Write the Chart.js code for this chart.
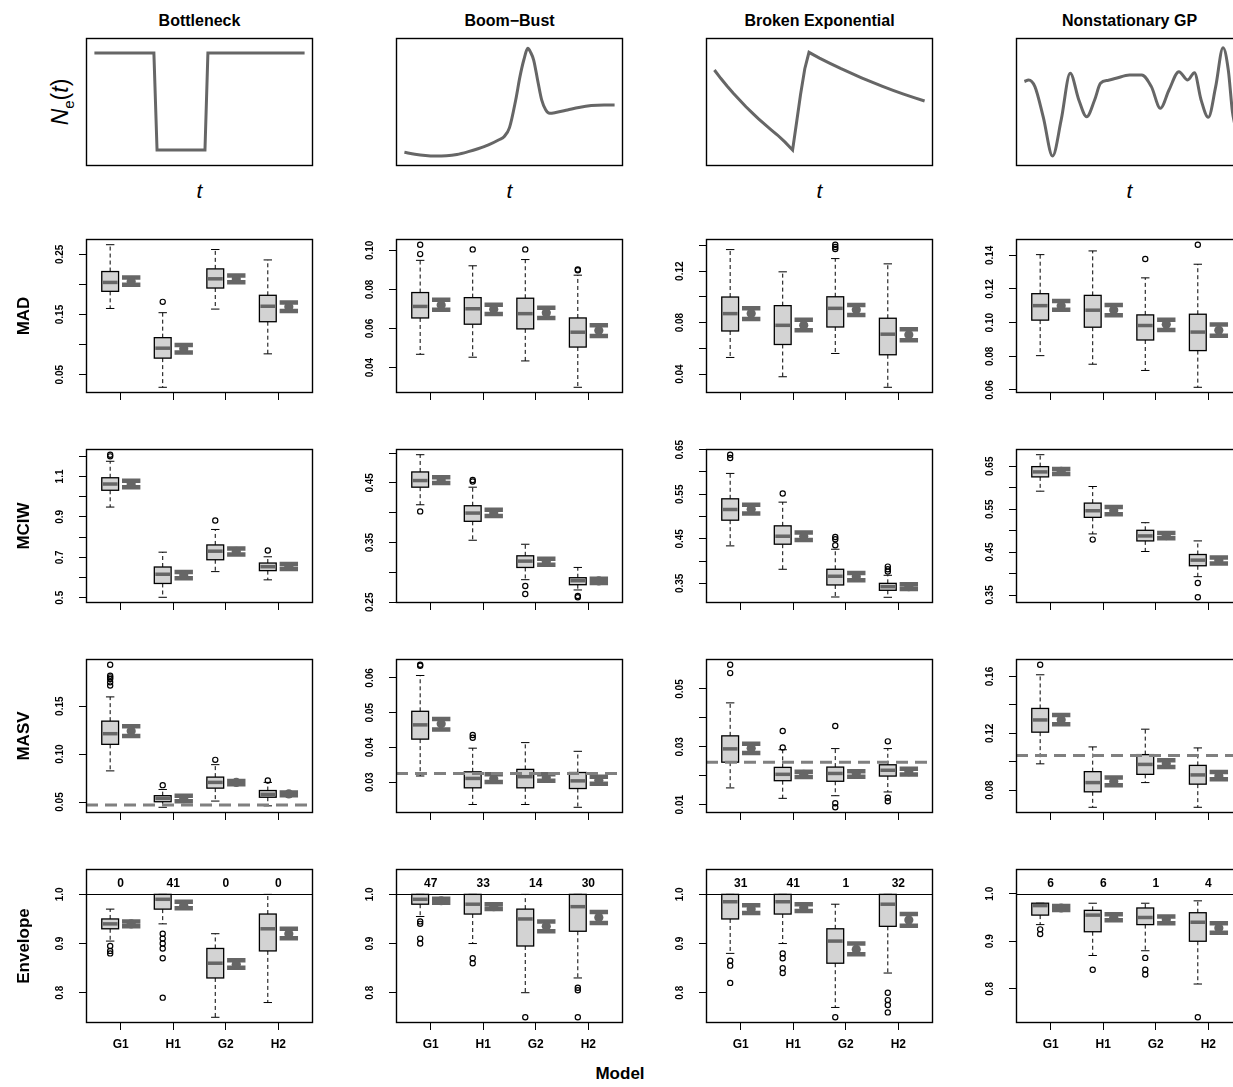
<!DOCTYPE html>
<html>
<head>
<meta charset="utf-8">
<script src="https://cdn.jsdelivr.net/npm/chart.js@4.4.1/dist/chart.umd.min.js"></script>
<style>
  body { margin: 0; background: #fff; }
  #fig { position: relative; width: 1233px; height: 1087px; overflow: hidden; font-family: "Liberation Sans", Arial, sans-serif; }
  #fig canvas { position: absolute; }
  .lbl { position: absolute; white-space: nowrap; color: #000; transform: translate(-50%, -50%); z-index: 2; }
  .rot { transform: translate(-50%, -50%) rotate(-90deg); }
</style>
</head>
<body>
<div id="fig"></div>
<script>
const models = ['G1', 'H1', 'G2', 'H2'];
const scenarios = ['Bottleneck', 'Boom\u2212Bust', 'Broken Exponential', 'Nonstationary GP'];
const metrics = ['MAD', 'MCIW', 'MASV', 'Envelope'];

// N_e(t) curves, t rescaled to 0..1, size in arbitrary units
const bottleneckT = [0, 0.283, 0.298, 0.526, 0.54, 1];
const bottleneckN = [0.883, 0.883, 0.125, 0.125, 0.883, 0.883];
const boomBustT = [0, 0.05, 0.1, 0.143, 0.2, 0.25, 0.304, 0.35, 0.4, 0.45, 0.474, 0.5, 0.53, 0.55, 0.568, 0.587, 0.6, 0.615, 0.635, 0.653, 0.672, 0.691, 0.72, 0.776, 0.83, 0.889, 0.95, 1];
const boomBustN = [0.107, 0.092, 0.082, 0.078, 0.080, 0.090, 0.112, 0.135, 0.165, 0.205, 0.229, 0.30, 0.52, 0.70, 0.828, 0.919, 0.89, 0.828, 0.66, 0.516, 0.44, 0.412, 0.418, 0.4375, 0.457, 0.472, 0.477, 0.477];
const brokenT = [0, 0.03, 0.06, 0.09, 0.12, 0.15, 0.18, 0.21, 0.24, 0.27, 0.30, 0.335, 0.372, 0.39, 0.41, 0.43, 0.45, 0.5, 0.55, 0.6, 0.65, 0.7, 0.75, 0.8, 0.85, 0.9, 0.95, 1];
const brokenN = [0.75, 0.685, 0.625, 0.568, 0.515, 0.463, 0.415, 0.368, 0.325, 0.283, 0.242, 0.188, 0.125, 0.33, 0.56, 0.76, 0.888, 0.843, 0.802, 0.762, 0.725, 0.689, 0.655, 0.622, 0.591, 0.562, 0.534, 0.508];
const gpT = [0, 0.02, 0.05, 0.09, 0.134, 0.175, 0.218, 0.259, 0.296, 0.334, 0.362, 0.40, 0.436, 0.50, 0.558, 0.604, 0.647, 0.688, 0.735, 0.777, 0.809, 0.84, 0.875, 0.91, 0.945, 0.97, 0.99, 1];
const gpN = [0.66, 0.672, 0.62, 0.38, 0.078, 0.36, 0.724, 0.516, 0.385, 0.516, 0.646, 0.67, 0.685, 0.711, 0.711, 0.62, 0.451, 0.594, 0.737, 0.672, 0.729, 0.52, 0.38, 0.62, 0.924, 0.75, 0.42, 0.33];
const curveT = [bottleneckT, boomBustT, brokenT, gpT];
const curveN = [bottleneckN, boomBustN, brokenN, gpN];
const curveSmooth = [false, true, false, true];

// boxplot stats per model: [lower whisker, Q1, median, Q3, upper whisker]
const madBox = [
  [[0.160, 0.1885, 0.2033, 0.2214, 0.266], [0.029, 0.0775, 0.094, 0.1115, 0.153], [0.159, 0.194, 0.2093, 0.2258, 0.258], [0.0846, 0.138, 0.1637, 0.1819, 0.2407]],
  [[0.0468, 0.0654, 0.0713, 0.0784, 0.0949], [0.0453, 0.0622, 0.0701, 0.0758, 0.0921], [0.0434, 0.0598, 0.0676, 0.0755, 0.0953], [0.0299, 0.0505, 0.0581, 0.0654, 0.0873]],
  [[0.0529, 0.0735, 0.087, 0.0999, 0.1368], [0.0379, 0.063, 0.0779, 0.0932, 0.1195], [0.056, 0.0766, 0.0911, 0.1001, 0.1298], [0.0297, 0.055, 0.071, 0.0834, 0.1257]],
  [[0.0804, 0.1015, 0.1101, 0.1172, 0.1404], [0.0753, 0.0973, 0.1074, 0.1162, 0.1426], [0.0716, 0.0897, 0.0983, 0.1046, 0.1266], [0.0616, 0.0834, 0.0944, 0.105, 0.1347]]
];
const madOut = [
  [[], [0.171], [], []],
  [[0.0981, 0.1029], [0.1005], [0.1005], [0.0898, 0.0902]],
  [[], [], [0.1373, 0.1388, 0.1406], []],
  [[], [], [0.1378], [0.1463]]
];
const madMean = [[0.205, 0.093, 0.209, 0.163], [0.072, 0.0698, 0.068, 0.059], [0.087, 0.078, 0.09, 0.0705], [0.110, 0.1075, 0.099, 0.0955]];
const madCI = [
  [[0.1995, 0.2115], [0.087, 0.0995], [0.2038, 0.2148], [0.156, 0.1698]],
  [[0.0696, 0.0747], [0.0674, 0.0721], [0.0654, 0.0706], [0.0561, 0.0617]],
  [[0.0828, 0.0911], [0.0741, 0.0823], [0.0859, 0.0937], [0.0663, 0.0748]],
  [[0.1076, 0.1129], [0.1044, 0.1105], [0.0956, 0.1017], [0.0922, 0.0989]]
];

const mciwBox = [
  [[0.9485, 1.0316, 1.0625, 1.0935, 1.175], [0.5023, 0.5707, 0.6163, 0.6521, 0.7254], [0.6293, 0.688, 0.7303, 0.7612, 0.8378], [0.5886, 0.6342, 0.6537, 0.6717, 0.7026]],
  [[0.4133, 0.4428, 0.4539, 0.4683, 0.4972], [0.3539, 0.3856, 0.3994, 0.4117, 0.4428], [0.2878, 0.3083, 0.3189, 0.3278, 0.3472], [0.2706, 0.2794, 0.2861, 0.2911, 0.3083]],
  [[0.4341, 0.4918, 0.5158, 0.5398, 0.5968], [0.3816, 0.4379, 0.4558, 0.4791, 0.5323], [0.3194, 0.3464, 0.3659, 0.3816, 0.4266], [0.3187, 0.3344, 0.3426, 0.35, 0.3681]],
  [[0.592, 0.6253, 0.6369, 0.6492, 0.677], [0.4924, 0.531, 0.5464, 0.5642, 0.6029], [0.4514, 0.4761, 0.4877, 0.5008, 0.5186], [0.3927, 0.4182, 0.4313, 0.4444, 0.4761]]
];
const mciwOut = [
  [[1.1993, 1.2075], [], [0.8818], [0.7336]],
  [[0.4022], [0.4522, 0.455], [0.2772, 0.2639], [0.2606, 0.2583]],
  [[0.6313, 0.6388], [0.5518], [0.4356, 0.449, 0.454], [0.3764, 0.3816, 0.3876]],
  [[], [0.4792], [], [0.378, 0.3447]]
];
const mciwMean = [[1.063, 0.612, 0.729, 0.6545], [0.455, 0.3997, 0.318, 0.2858], [0.5165, 0.456, 0.365, 0.3425], [0.638, 0.5465, 0.4885, 0.4305]];
const mciwCI = [
  [[1.0463, 1.0788], [0.5967, 0.6277], [0.714, 0.7433], [0.6423, 0.6668]],
  [[0.45, 0.4594], [0.3944, 0.405], [0.3128, 0.3228], [0.2822, 0.2894]],
  [[0.5068, 0.5263], [0.4476, 0.4641], [0.3569, 0.3734], [0.3374, 0.3479]],
  [[0.6322, 0.6438], [0.538, 0.555], [0.4823, 0.4947], [0.4236, 0.4375]]
];

const masvBox = [
  [[0.0825, 0.1102, 0.1213, 0.1344, 0.1597], [0.0445, 0.0503, 0.0538, 0.0566, 0.0631], [0.051, 0.0645, 0.0705, 0.076, 0.089], [0.046, 0.055, 0.058, 0.062, 0.0705]],
  [[0.0318, 0.0424, 0.0465, 0.0504, 0.0607], [0.0236, 0.0284, 0.0311, 0.033, 0.0398], [0.0236, 0.0284, 0.0316, 0.0337, 0.0414], [0.0228, 0.0282, 0.0304, 0.0328, 0.0389]],
  [[0.0158, 0.0247, 0.0293, 0.0338, 0.0452], [0.0122, 0.0183, 0.0205, 0.0229, 0.029], [0.0131, 0.0181, 0.0208, 0.023, 0.0294], [0.0144, 0.0199, 0.0219, 0.0238, 0.0294]],
  [[0.0985, 0.1208, 0.1294, 0.1375, 0.1612], [0.0679, 0.0788, 0.0853, 0.093, 0.1104], [0.0853, 0.0911, 0.0981, 0.105, 0.1229], [0.0679, 0.0842, 0.0907, 0.0974, 0.1097]]
];
const masvOut = [
  [[0.1715, 0.1749, 0.1784, 0.1801, 0.1818, 0.1933], [0.0676], [0.094], [0.0725]],
  [[0.0635, 0.0638], [0.0428, 0.0436], [], []],
  [[0.0555, 0.0584], [0.0298, 0.0355], [0.0372, 0.0105, 0.0091], [0.0319, 0.0124, 0.0112]],
  [[0.1683], [], [], []]
];
const masvMean = [[0.124, 0.0535, 0.0705, 0.0585], [0.0468, 0.031, 0.0313, 0.0306], [0.0295, 0.0205, 0.0207, 0.0214], [0.1295, 0.086, 0.0985, 0.090]];
const masvCI = [
  [[0.1189, 0.1292], [0.0507, 0.0566], [0.0685, 0.072], [0.057, 0.060]],
  [[0.0452, 0.0482], [0.0301, 0.0323], [0.0304, 0.0323], [0.0296, 0.0316]],
  [[0.0279, 0.0311], [0.0196, 0.0214], [0.0197, 0.0216], [0.0204, 0.0224]],
  [[0.1264, 0.1329], [0.0835, 0.0888], [0.0962, 0.1011], [0.0876, 0.0927]]
];
const masvTrue = [0.047, 0.0325, 0.0247, 0.1043];

const envBox = [
  [[0.905, 0.93, 0.94, 0.95, 0.97], [0.94, 0.97, 0.99, 1.0, 1.0], [0.75, 0.83, 0.86, 0.89, 0.92], [0.78, 0.885, 0.93, 0.96, 1.0]],
  [[0.955, 0.98, 0.99, 1.0, 1.0], [0.9, 0.96, 0.98, 1.0, 1.0], [0.8, 0.895, 0.95, 0.97, 1.0], [0.83, 0.925, 0.975, 1.0, 1.0]],
  [[0.88, 0.95, 0.985, 1.0, 1.0], [0.9, 0.96, 0.985, 1.0, 1.0], [0.77, 0.86, 0.905, 0.93, 0.98], [0.84, 0.935, 0.98, 1.0, 1.0]],
  [[0.935, 0.955, 0.975, 0.98, 0.98], [0.87, 0.92, 0.955, 0.965, 0.98], [0.88, 0.935, 0.95, 0.97, 0.98], [0.81, 0.9, 0.94, 0.96, 0.985]]
];
const envOut = [
  [[0.88, 0.885, 0.895], [0.92, 0.91, 0.9, 0.89, 0.87, 0.79], [], []],
  [[0.945, 0.94, 0.91, 0.90], [0.87, 0.86], [0.75], [0.81, 0.805, 0.75]],
  [[0.865, 0.855, 0.82], [0.88, 0.87, 0.85, 0.84], [0.75], [0.8, 0.785, 0.775, 0.76]],
  [[0.925, 0.915], [0.84], [0.865, 0.84, 0.83], [0.74]]
];
const envMean = [[0.94, 0.978, 0.858, 0.92], [0.987, 0.975, 0.935, 0.953], [0.97, 0.973, 0.888, 0.948], [0.97, 0.95, 0.945, 0.928]];
const envCI = [
  [[0.935, 0.945], [0.972, 0.985], [0.851, 0.866], [0.911, 0.93]],
  [[0.983, 0.991], [0.97, 0.98], [0.925, 0.945], [0.942, 0.964]],
  [[0.962, 0.978], [0.966, 0.98], [0.878, 0.9], [0.936, 0.96]],
  [[0.966, 0.974], [0.944, 0.957], [0.938, 0.952], [0.918, 0.938]]
];
const envCount = [[0, 41, 0, 0], [47, 33, 14, 30], [31, 41, 1, 32], [6, 6, 1, 4]];

// y-axis ticks and their labels ('' = tick without label)
const madTicks = [[0.05, 0.10, 0.15, 0.20, 0.25], [0.04, 0.06, 0.08, 0.10], [0.04, 0.06, 0.08, 0.10, 0.12, 0.14], [0.06, 0.08, 0.10, 0.12, 0.14]];
const madLabels = [['0.05', '', '0.15', '', '0.25'], ['0.04', '0.06', '0.08', '0.10'], ['0.04', '', '0.08', '', '0.12', ''], ['0.06', '0.08', '0.10', '0.12', '0.14']];
const mciwTicks = [[0.5, 0.6, 0.7, 0.8, 0.9, 1.0, 1.1, 1.2], [0.25, 0.30, 0.35, 0.40, 0.45, 0.50], [0.35, 0.40, 0.45, 0.50, 0.55, 0.60, 0.65], [0.35, 0.40, 0.45, 0.50, 0.55, 0.60, 0.65]];
const mciwLabels = [['0.5', '', '0.7', '', '0.9', '', '1.1', ''], ['0.25', '', '0.35', '', '0.45', ''], ['0.35', '', '0.45', '', '0.55', '', '0.65'], ['0.35', '', '0.45', '', '0.55', '', '0.65']];
const masvTicks = [[0.05, 0.10, 0.15], [0.03, 0.04, 0.05, 0.06], [0.01, 0.02, 0.03, 0.04, 0.05], [0.08, 0.10, 0.12, 0.14, 0.16]];
const masvLabels = [['0.05', '0.10', '0.15'], ['0.03', '0.04', '0.05', '0.06'], ['0.01', '', '0.03', '', '0.05'], ['0.08', '', '0.12', '', '0.16']];
const envTicks = [[0.8, 0.9, 1.0], [0.8, 0.9, 1.0], [0.8, 0.9, 1.0], [0.8, 0.9, 1.0]];
const envLabels = [['0.8', '0.9', '1.0'], ['0.8', '0.9', '1.0'], ['0.8', '0.9', '1.0'], ['0.8', '0.9', '1.0']];

const boxStats = [madBox, mciwBox, masvBox, envBox];
const outliers = [madOut, mciwOut, masvOut, envOut];
const meanVals = [madMean, mciwMean, masvMean, envMean];
const ciVals = [madCI, mciwCI, masvCI, envCI];
const yTicks = [madTicks, mciwTicks, masvTicks, envTicks];
const yTickLabels = [madLabels, mciwLabels, masvLabels, envLabels];

Chart.defaults.font.family = '"Liberation Sans", Arial, sans-serif';
Chart.defaults.color = '#000';

const fig = document.getElementById('fig');
const colLeft = [86, 396, 706, 1016];
const boxW = 227;
const rowTop = [239, 449, 659, 869];
const boxH = 154;
const FONT = '"Liberation Sans", Arial, sans-serif';

function addCanvas(left, top, w, h) {
  const cv = document.createElement('canvas');
  cv.width = w; cv.height = h;
  cv.style.left = left + 'px'; cv.style.top = top + 'px';
  cv.style.width = w + 'px'; cv.style.height = h + 'px';
  fig.appendChild(cv);
  return cv;
}

function addText(html, x, y, css, rotate) {
  const d = document.createElement('div');
  d.className = 'lbl' + (rotate ? ' rot' : '');
  d.style.left = x + 'px'; d.style.top = y + 'px';
  d.style.cssText += css;
  d.innerHTML = html;
  fig.appendChild(d);
}

function frame(chart) {
  const { ctx, chartArea: a } = chart;
  ctx.save();
  ctx.strokeStyle = '#000';
  ctx.lineWidth = 1.4;
  ctx.strokeRect(Math.round(a.left) + 0.5, Math.round(a.top) + 0.5, Math.round(a.right - a.left) - 1, Math.round(a.bottom - a.top) - 1);
  ctx.restore();
}

// top row: the N_e(t) trajectories
scenarios.forEach((name, c) => {
  const cv = addCanvas(colLeft[c] - 2, 36, boxW + 4, 132);
  new Chart(cv, {
    type: 'scatter',
    data: {
      datasets: [{
        data: curveT[c].map((t, i) => ({ x: t, y: curveN[c][i] })),
        showLine: true,
        borderColor: '#666',
        borderWidth: 3,
        pointRadius: 0,
        cubicInterpolationMode: curveSmooth[c] ? 'monotone' : 'default',
        tension: 0
      }]
    },
    options: {
      responsive: false, animation: false, devicePixelRatio: 1, events: [],
      layout: { padding: 2 },
      plugins: { legend: { display: false }, tooltip: { enabled: false } },
      scales: {
        x: { type: 'linear', display: false, min: -0.04, max: 1.04 },
        y: { display: false, min: 0, max: 1 }
      }
    },
    plugins: [{ id: 'frame', afterDraw: frame }]
  });
  addText(name, colLeft[c] + boxW / 2, 21, 'font-weight:bold;font-size:16px;');
  addText('<i>t</i>', colLeft[c] + boxW / 2, 191, 'font-size:21px;');
});

function boxPanel(r, c) {
  const stats = boxStats[r][c], outs = outliers[r][c], means = meanVals[r][c], cis = ciVals[r][c];
  const tv = yTicks[r][c], tl = yTickLabels[r][c];
  const all = stats.flat().concat(outs.flat(), cis.flat(), means);
  let lo = Math.min(...all), hi = Math.max(...all);
  if (r === 3) hi = 1.04;
  const pad = 0.04 * (hi - lo);
  const yMin = lo - pad, yMax = hi + pad;
  const bottomRow = r === 3;

  const panel = {
    id: 'panel',
    beforeDatasetsDraw(chart) {
      const { ctx, scales: { x, y } } = chart;
      const ux = x.getPixelForValue(1) - x.getPixelForValue(0);
      stats.forEach((s, i) => {
        const cx = x.getPixelForValue(i + 1 - 0.2);
        const hw = 0.16 * ux;
        const [wl, q1, md, q3, wh] = s.map(v => y.getPixelForValue(v));
        ctx.save();
        ctx.strokeStyle = '#000';
        ctx.lineWidth = 1;
        ctx.setLineDash([4, 3]);
        ctx.beginPath();
        ctx.moveTo(cx, q3); ctx.lineTo(cx, wh);
        ctx.moveTo(cx, q1); ctx.lineTo(cx, wl);
        ctx.stroke();
        ctx.setLineDash([]);
        ctx.beginPath();
        ctx.moveTo(cx - hw / 2, wh); ctx.lineTo(cx + hw / 2, wh);
        ctx.moveTo(cx - hw / 2, wl); ctx.lineTo(cx + hw / 2, wl);
        ctx.stroke();
        ctx.fillStyle = '#d3d3d3';
        ctx.fillRect(cx - hw, q3, 2 * hw, q1 - q3);
        ctx.lineWidth = 1.3;
        ctx.strokeRect(cx - hw, q3, 2 * hw, q1 - q3);
        ctx.strokeStyle = '#666';
        ctx.lineWidth = 3.5;
        ctx.beginPath();
        ctx.moveTo(cx - hw + 1, md); ctx.lineTo(cx + hw - 1, md);
        ctx.stroke();
        // mean with interval
        const gx = x.getPixelForValue(i + 1 + 0.2), gw = 0.175 * ux;
        const [cl, ch] = cis[i].map(v => y.getPixelForValue(v));
        ctx.strokeStyle = '#666';
        ctx.lineWidth = 3.5;
        ctx.beginPath(); ctx.moveTo(gx, cl); ctx.lineTo(gx, ch); ctx.stroke();
        ctx.lineWidth = 4.5;
        ctx.beginPath();
        ctx.moveTo(gx - gw, cl); ctx.lineTo(gx + gw, cl);
        ctx.moveTo(gx - gw, ch); ctx.lineTo(gx + gw, ch);
        ctx.stroke();
        ctx.restore();
      });
    },
    afterDatasetsDraw(chart) {
      const { ctx, chartArea: a, scales: { x, y } } = chart;
      ctx.save();
      if (r === 2) {
        const py = y.getPixelForValue(masvTrue[c]);
        ctx.strokeStyle = '#808080';
        ctx.lineWidth = 3;
        ctx.setLineDash([12, 7]);
        ctx.beginPath(); ctx.moveTo(a.left, py); ctx.lineTo(a.right, py); ctx.stroke();
      }
      if (r === 3) {
        const py = Math.round(y.getPixelForValue(1.0)) + 0.5;
        ctx.strokeStyle = '#000';
        ctx.lineWidth = 1.2;
        ctx.beginPath(); ctx.moveTo(a.left, py); ctx.lineTo(a.right, py); ctx.stroke();
        ctx.fillStyle = '#000';
        ctx.font = 'bold 12px ' + FONT;
        ctx.textAlign = 'center';
        ctx.textBaseline = 'middle';
        envCount[c].forEach((n, i) => ctx.fillText(String(n), x.getPixelForValue(i + 1), py - 11));
      }
      ctx.restore();
    },
    afterDraw(chart) {
      frame(chart);
      const { ctx, chartArea: a, scales: { y } } = chart;
      ctx.save();
      ctx.fillStyle = '#000';
      ctx.font = 'bold 10px ' + FONT;
      ctx.textAlign = 'center';
      ctx.textBaseline = 'middle';
      tv.forEach((v, i) => {
        if (!tl[i] || v < yMin || v > yMax) return;
        ctx.save();
        ctx.translate(a.left - 26, y.getPixelForValue(v));
        ctx.rotate(-Math.PI / 2);
        ctx.fillText(tl[i], 0, 0);
        ctx.restore();
      });
      ctx.restore();
    }
  };

  const cv = addCanvas(colLeft[c] - 70, rowTop[r] - 12, 303, 206);
  new Chart(cv, {
    type: 'scatter',
    data: {
      datasets: [
        {
          data: outs.flatMap((a, i) => a.map(v => ({ x: i + 1 - 0.2, y: v }))),
          pointRadius: 2.6,
          pointBorderWidth: 1.2,
          pointBorderColor: '#000',
          pointBackgroundColor: 'rgba(0,0,0,0)'
        },
        {
          data: means.map((v, i) => ({ x: i + 1 + 0.2, y: v })),
          pointRadius: 4.6,
          pointBorderWidth: 0,
          pointBackgroundColor: '#666'
        }
      ]
    },
    options: {
      responsive: false, animation: false, devicePixelRatio: 1, events: [],
      layout: { padding: { top: 12, right: 6, left: 0, bottom: 0 } },
      plugins: { legend: { display: false }, tooltip: { enabled: false } },
      scales: {
        x: {
          type: 'linear', min: 0.34, max: 4.66,
          afterBuildTicks: s => { s.ticks = models.map((m, i) => ({ value: i + 1 })); },
          afterFit: s => { s.height = 40; s.paddingLeft = 0; s.paddingRight = 0; },
          grid: { display: true, drawOnChartArea: false, drawTicks: true, tickLength: 7, color: '#000', lineWidth: 1 },
          border: { display: false },
          ticks: {
            display: bottomRow, autoSkip: false, maxRotation: 0, padding: 7,
            font: { weight: 'bold', size: 12 }, color: '#000',
            callback: v => models[Math.round(v) - 1]
          }
        },
        y: {
          type: 'linear', min: yMin, max: yMax,
          afterBuildTicks: s => { s.ticks = tv.filter(v => v >= yMin && v <= yMax).map(v => ({ value: v })); },
          afterFit: s => { s.width = 70; s.paddingTop = 0; s.paddingBottom = 0; },
          grid: { display: true, drawOnChartArea: false, drawTicks: true, tickLength: 7, color: '#000', lineWidth: 1 },
          border: { display: false },
          ticks: { display: false }
        }
      }
    },
    plugins: [panel]
  });
}

metrics.forEach((m, r) => {
  scenarios.forEach((s, c) => boxPanel(r, c));
  addText(m, 24, rowTop[r] + boxH / 2, 'font-weight:bold;font-size:17px;', true);
});

addText('<i>N</i><sub style="font-size:15px;">e</sub>(<i>t</i>)', 62, 102, 'font-size:23px;', true);
addText('Model', 620, 1074, 'font-weight:bold;font-size:17px;');
</script>
</body>
</html>
